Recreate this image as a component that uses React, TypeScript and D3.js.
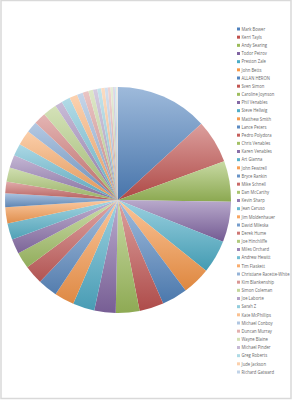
import { arc, color, interpolateRgb, pie, scaleLinear } from "d3";

// names in legend order (= slice order, clockwise from 12 o'clock)
const names = [
  "Mark Bower", "Kerri Tayls", "Andy Searing", "Todor Petrov", "Preston Zale",
  "John Betts", "ALLAN HERON", "Sven Simon", "Caroline Joynson", "Phil Venables",
  "Steve Hellwig", "Matthew Smith", "Lance Peters", "Pedro Polydora", "Chris Venables",
  "Karen Venables", "Art Gianna", "John Fewtrell", "Bryce Rankin", "Mike Schnell",
  "Dan McCarthy", "Kevin Sharp", "Jean Caruso", "Jim Moldenhauer", "David Mileska",
  "Derek Hume", "Joe Hinchliffe", "Miles Orchard", "Andrew Hewitt", "Tim Flaskett",
  "Christiane Racette-White", "Kim Blankenship", "Simon Coleman", "Joe Laborte", "Sarah Z",
  "Kate McPhillips", "Michael Conboy", "Duncan Murray", "Wayne Blaine", "Michael Pinder",
  "Greg Roberts", "Jude Jackson", "Richard Gatward",
];

// values
const values = [
  47.5, 22.5, 20.9, 20.8, 17.1, 14.5, 13.2, 12.5, 12.2, 11.0,
  11.2, 10.2, 10.1, 9.8, 8.5, 7.6, 8.5, 8.3, 7.1, 6.0,
  7.3, 6.6, 6.3, 7.7, 5.8, 6.2, 7.1, 3.8, 4.5, 4.1,
  3.0, 3.0, 2.4, 2.2, 2.0, 1.8, 1.6, 1.4, 1.2, 1.0,
  0.8, 0.5, 0.3,
];

const baseColors = ["#4F81BD", "#C0504D", "#9BBB59", "#8064A2", "#4BACC6", "#F79646"];
// how much each cycle of six is washed toward white
const cycleTint = [0, 0.03, 0.08, 0.15, 0.22, 0.4, 0.55, 0.65];

const W = 293;
const H = 400;
const cx = 118;
const cy = 200;
const R = 113;

function sliceColor(i: number) {
  const base = baseColors[i % 6];
  const t = cycleTint[Math.floor(i / 6)];
  return interpolateRgb(base, "#ffffff")(t);
}

export default function App() {
  const arcs = pie<number>().sort(null)(values);
  const arcGen = arc<any>().innerRadius(0).outerRadius(R);

  const legendY = scaleLinear().domain([0, names.length - 1]).range([29, 372]);

  return (
    <svg
      width={W}
      height={H}
      style={{ position: "absolute", left: 0, top: 0, background: "#fff" }}
    >
      <defs>
        {arcs.map((a, i) => {
          const c = sliceColor(i);
          const top = interpolateRgb(c, "#ffffff")(0.45);
          const bottom = color(c)!.darker(0.3).formatHex();
          return (
            <linearGradient key={i} id={`g${i}`} x1="0" y1="0" x2="0" y2="1">
              <stop offset="0%" stopColor={top} />
              <stop offset="100%" stopColor={bottom} />
            </linearGradient>
          );
        })}
      </defs>

      <rect x={1} y={0.5} width={290} height={398} fill="#fff" stroke="#d9d9d9" strokeWidth={1.5} />

      <g transform={`translate(${cx},${cy})`}>
        {arcs.map((a, i) => (
          <path key={i} d={arcGen(a) as string} fill={`url(#g${i})`} />
        ))}
      </g>

      <g fontFamily="'Open Sans', 'Liberation Sans', sans-serif" fontSize={5} fill="#666">
        {names.map((n, i) => (
          <g key={n} transform={`translate(237,${legendY(i)})`}>
            <rect x={0} y={-1.5} width={3} height={3} fill={sliceColor(i)} />
            <text transform="translate(4.5,1.8) scale(0.84,1)">{n}</text>
          </g>
        ))}
      </g>
    </svg>
  );
}
